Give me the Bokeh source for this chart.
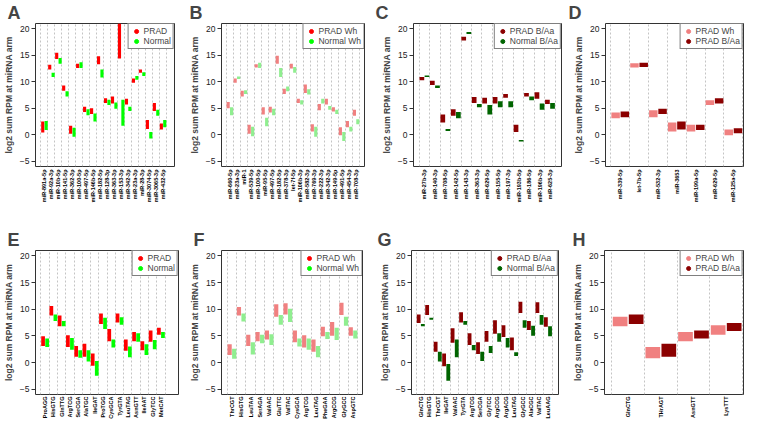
import math
from bokeh.plotting import figure
from bokeh.models import Range1d, FixedTicker, Legend, LegendItem
from bokeh.layouts import row, column
from bokeh.embed import file_html
from bokeh.resources import INLINE

FONT = "Liberation Sans"

# ---------------- data ----------------
a_labels = ["miR-891a-5p", "miR-92a-3p", "miR-10b-5p", "miR-141-5p", "miR-362-3p", "miR-100-5p",
            "miR-497-5p", "miR-146b-5p", "miR-182-5p", "miR-128-3p", "miR-363-3p", "miR-153-3p",
            "miR-342-3p", "miR-23a-3p", "miR-28-3p", "miR-3074-5p", "miR-3065-3p", "miR-432-5p"]
a_prad_lo = [0.4, 12.3, 14.3, 8.3, 0.2, 12.6, 4.3, 3.9, 13.3, 6.0, 5.9, 14.4, 5.7, 9.8, 11.7, 1.1, 4.5, 1.0]
a_prad_hi = [2.5, 13.2, 15.5, 9.3, 1.7, 13.4, 5.3, 5.0, 14.8, 6.9, 7.2, 24.7, 6.8, 10.6, 12.3, 2.8, 6.0, 2.1]
a_norm_lo = [0.9, 10.9, 13.4, 7.2, -0.4, 12.6, 3.7, 2.5, 10.8, 5.6, 4.9, 1.7, 4.5, 10.4, 11.1, -0.7, 3.6, 1.4]
a_norm_hi = [2.6, 11.7, 14.5, 8.2, 1.3, 13.7, 4.8, 4.0, 12.3, 6.6, 6.1, 6.6, 5.3, 11.1, 11.8, 0.5, 4.7, 2.8]

b_labels = ["miR-660-5p", "miR-23a-3p", "miR-1", "miR-539-5p", "miR-100-5p", "miR-95-5p",
            "miR-497-5p", "miR-182-5p", "miR-378-3p", "let-7f-5p", "miR-106b-3p", "miR-582-3p",
            "miR-769-3p", "miR-222-3p", "miR-342-3p", "miR-149-5p", "miR-491-5p", "miR-454-3p", "miR-708-3p"]
b_wh_lo = [5.0, 9.8, 7.2, 0.2, 12.7, 3.8, 4.2, 13.4, 7.7, 12.5, 6.0, 7.9, 0.6, 4.6, 5.7, 4.4, -0.1, 1.4, 3.6]
b_wh_hi = [6.2, 10.6, 8.3, 1.9, 13.3, 5.2, 5.3, 14.9, 8.7, 13.4, 6.8, 9.5, 2.0, 5.8, 6.8, 5.2, 1.4, 2.6, 4.7]
b_nwh_lo = [3.7, 10.5, 7.7, -0.3, 12.6, 1.6, 3.7, 10.9, 8.2, 11.7, 5.7, 7.6, -0.4, 5.9, 4.7, 3.9, -1.2, 0.6, 2.0]
b_nwh_hi = [5.2, 11.0, 8.4, 1.5, 13.6, 3.2, 4.9, 12.6, 9.1, 12.8, 6.5, 8.6, 1.5, 6.8, 5.4, 4.7, 0.5, 1.5, 2.9]

c_labels = ["miR-27b-3p", "miR-140-3p", "miR-708-5p", "miR-142-5p", "miR-143-3p", "miR-363-3p",
            "miR-629-5p", "miR-155-5p", "miR-197-3p", "miR-193b-5p", "miR-186-5p", "miR-196b-3p", "miR-625-3p"]
c_ba_lo = [10.3, 9.4, 2.3, 3.6, 17.8, 6.0, 5.9, 5.9, 7.0, 0.5, 7.2, 6.8, 5.8]
c_ba_hi = [10.9, 10.2, 3.8, 4.8, 18.5, 7.1, 7.0, 7.1, 7.7, 1.9, 7.9, 8.0, 6.6]
c_nba_lo = [10.9, 8.8, 0.7, 3.1, 19.0, 5.2, 3.8, 5.2, 5.2, -1.3, 6.5, 4.7, 4.9]
c_nba_hi = [11.2, 9.3, 1.1, 4.3, 19.4, 5.8, 5.6, 6.3, 6.3, -1.0, 7.2, 5.9, 6.0]

d_labels = ["miR-339-5p", "let-7b-5p", "miR-532-3p", "miR-3653", "miR-199a-5p", "miR-629-5p", "miR-125a-5p"]
d_wh_lo = [3.1, 12.7, 3.3, 0.6, 0.6, 5.6, -0.1]
d_wh_hi = [4.2, 13.5, 4.6, 2.3, 1.9, 6.5, 1.0]
d_ba_lo = [3.3, 12.8, 3.9, 1.0, 0.9, 5.9, 0.3]
d_ba_hi = [4.4, 13.6, 4.9, 2.5, 1.9, 6.9, 1.2]

e_labels = ["ProAGG", "HisGTG", "GlnTTG", "ArgTCG", "SerCGA", "AlaTGC", "IleGAT", "ProTGG",
            "CysGCA", "TyrGTA", "LeuTAG", "AsnGTT", "IleAAT", "GlyTCC", "MetCAT"]
e_prad_lo = [3.1, 8.8, 6.8, 2.9, 1.1, 1.1, -0.6, 7.2, 4.0, 7.5, 2.2, 4.0, 2.3, 3.9, 5.2]
e_prad_hi = [4.9, 10.6, 8.8, 5.1, 3.1, 3.5, 1.7, 9.2, 6.3, 9.2, 4.3, 5.7, 4.0, 6.0, 6.5]
e_norm_lo = [2.9, 7.8, 6.8, 2.4, 0.9, 0.2, -2.5, 6.3, 2.8, 7.1, 1.0, 3.9, 1.4, 2.5, 4.6]
e_norm_hi = [4.5, 9.0, 7.8, 4.6, 2.3, 2.3, 0.3, 8.4, 4.3, 8.5, 3.0, 5.5, 3.4, 4.2, 5.7]

f_labels = ["ThrCGT", "HisGTG", "LeuTAA", "SerAGA", "ValAAC", "GluTTC", "ValTAC", "CysGCA",
            "ArgTCG", "LeuTAG", "PheGAA", "ArgCCG", "GlyGCC", "AspGTC"]
f_wh_lo = [1.4, 8.8, 3.1, 4.0, 4.3, 8.6, 9.0, 3.8, 2.8, 2.0, 4.9, 5.0, 8.9, 5.0]
f_wh_hi = [3.4, 10.4, 5.2, 5.7, 6.0, 10.9, 11.1, 6.0, 5.1, 4.3, 6.7, 7.6, 11.2, 6.6]
f_nwh_lo = [0.7, 7.7, 1.5, 3.6, 3.3, 7.1, 7.6, 3.0, 2.4, 1.0, 4.4, 4.2, 6.9, 4.5]
f_nwh_hi = [2.6, 9.2, 3.8, 5.2, 5.3, 8.9, 10.1, 4.5, 4.5, 3.1, 5.7, 6.5, 8.6, 6.0]

g_labels = ["GlnCTG", "HisGTG", "ThrCGT", "IleGAT", "ValAAC", "TyrGTA", "ArgTCG", "SerCGA",
            "GlyTCC", "ArgCCG", "ArgACG", "LeuTAG", "GlyGCC", "AlaCGC", "ValTAC", "LeuAAG"]
g_ba_lo = [7.4, 8.9, 2.0, -0.7, 3.7, 7.5, 3.3, 1.6, 3.9, 5.4, 4.8, 2.3, 9.3, 6.1, 9.3, 6.7]
g_ba_hi = [9.0, 10.8, 3.9, 1.7, 6.4, 9.4, 5.5, 3.8, 5.9, 7.9, 7.0, 4.7, 11.4, 7.8, 11.3, 8.5]
g_nba_lo = [6.8, 8.0, 0.2, -3.4, 1.0, 7.1, 2.3, 0.3, 1.8, 3.9, 2.8, 1.2, 6.5, 5.0, 7.1, 4.9]
g_nba_hi = [7.2, 8.4, 2.0, -0.3, 4.3, 7.8, 3.3, 2.0, 3.1, 5.5, 4.6, 1.9, 7.9, 6.9, 8.9, 6.8]

h_labels = ["GlnCTG", "THrAGT", "AsnGTT", "LysTTT"]
h_wh_lo = [6.8, 0.8, 4.0, 5.2]
h_wh_hi = [8.6, 2.9, 5.7, 7.0]
h_ba_lo = [7.2, 1.1, 4.5, 5.9]
h_ba_hi = [9.0, 3.5, 6.0, 7.4]

y_ticks = [-5, 0, 5, 10, 15, 20]

RED, GREEN = "#FF0000", "#00FF00"
LRED, LGREEN = "#F08080", "#90EE90"
DRED, DGREEN = "#8B0000", "#006400"


def panel(letter, labels, lo1, hi1, lo2, hi2, c1, c2, lc1, lc2, n1, n2,
          w, h, mbl, mbr, mbt, mbb, padl, padr, toff, xstand):
    N = len(labels)
    fw = w - mbl - mbr
    slot = (fw - padl - padr) / N
    xr = Range1d(0.5 - padl / slot, N + 0.5 + padr / slot)
    p = figure(width=w, height=h, x_range=xr, y_range=Range1d(-6, 21),
               output_backend="svg", toolbar_location=None,
               min_border_left=mbl, min_border_right=mbr,
               min_border_top=mbt, min_border_bottom=mbb, title=letter)
    p.title.text_font = FONT
    p.title.text_font_size = "18px"
    p.title.text_font_style = "bold"
    p.title.align = "left"
    p.title.offset = toff
    p.title.standoff = 1
    p.outline_line_color = "#333333"
    p.outline_line_width = 1
    p.background_fill_color = "white"
    p.border_fill_color = "white"

    xs1 = [i + 1 - 0.245 for i in range(N)]
    xs2 = [i + 1 + 0.245 for i in range(N)]
    p.vbar(x=xs1, width=0.45, bottom=lo1, top=hi1, fill_color=c1, line_color=None)
    p.vbar(x=xs2, width=0.45, bottom=lo2, top=hi2, fill_color=c2, line_color=None)

    # legend-only markers, placed outside the visible y range
    r1 = p.scatter(x=[1], y=[-100], marker="circle", size=5, fill_color=lc1, line_color=lc1)
    r2 = p.scatter(x=[1], y=[-100], marker="circle", size=5, fill_color=lc2, line_color=lc2)
    leg = Legend(items=[LegendItem(label=n1, renderers=[r1], index=0),
                        LegendItem(label=n2, renderers=[r2], index=0)])
    leg.location = "top_right"
    leg.margin = 0
    leg.padding = 2
    leg.spacing = 0
    leg.border_line_color = "black"
    leg.border_line_width = 1
    leg.background_fill_alpha = 1
    leg.label_text_font = FONT
    leg.label_text_font_size = "8.5px"
    leg.label_height = 10
    leg.glyph_height = 10
    leg.glyph_width = 11
    leg.label_standoff = 2
    p.add_layout(leg)

    # x axis
    p.xaxis.ticker = FixedTicker(ticks=list(range(1, N + 1)))
    p.xaxis.major_label_overrides = {i + 1: lab for i, lab in enumerate(labels)}
    p.xaxis.major_label_orientation = math.pi / 2
    p.xaxis.major_label_text_font = FONT
    p.xaxis.major_label_text_font_size = "5.5px"
    p.xaxis.major_label_text_font_style = "bold"
    p.xaxis.major_label_text_color = "black"
    p.xaxis.major_label_standoff = xstand
    p.xaxis.axis_line_color = None
    p.xaxis.major_tick_line_color = None
    p.xaxis.minor_tick_line_color = None
    p.xaxis.major_tick_out = 0
    p.xaxis.major_tick_in = 0

    # y axis
    p.yaxis.ticker = FixedTicker(ticks=y_ticks)
    p.yaxis.axis_label = "log2 sum RPM at miRNA arm"
    p.yaxis.axis_label_text_font = FONT
    p.yaxis.axis_label_text_font_size = "8.5px"
    p.yaxis.axis_label_text_font_style = "bold"
    p.yaxis.axis_label_standoff = 3
    p.yaxis.major_label_text_font = FONT
    p.yaxis.major_label_text_font_size = "8.5px"
    p.yaxis.major_label_text_color = "#222222"
    p.yaxis.major_label_standoff = 2
    p.yaxis.major_label_orientation = "horizontal"
    p.yaxis.axis_line_color = None
    p.yaxis.major_tick_line_color = "#333333"
    p.yaxis.major_tick_out = 4
    p.yaxis.major_tick_in = 0
    p.yaxis.minor_tick_line_color = None

    # grid
    p.xgrid.ticker = FixedTicker(ticks=[i + 0.5 for i in range(N + 1)])
    p.xgrid.grid_line_color = "#C4C4C4"
    p.xgrid.grid_line_dash = "2 2"
    p.xgrid.grid_line_width = 1
    p.ygrid.grid_line_color = None
    return p


H1, H2 = 214, 207
TOP1, BOT1 = 12, 48
TOP2, BOT2 = 36, 20

pa = panel("A", a_labels, a_prad_lo, a_prad_hi, a_norm_lo, a_norm_hi, RED, GREEN, RED, GREEN,
           "PRAD", "Normal", 186, H1, 29, 12, TOP1, BOT1, 5.7, 8.3, -28, 3)
pb = panel("B", b_labels, b_wh_lo, b_wh_hi, b_nwh_lo, b_nwh_hi, LRED, LGREEN, RED, GREEN,
           "PRAD Wh", "Normal Wh", 186, H1, 31, 8, TOP1, BOT1, 5.0, 5.0, -32, 3)
pc = panel("C", c_labels, c_ba_lo, c_ba_hi, c_nba_lo, c_nba_hi, DRED, DGREEN, DRED, DGREEN,
           "PRAD B/Aa", "Normal B/Aa", 192, H1, 41, 3, TOP1, BOT1, 5.7, 6.3, -38, 3)
pd_ = panel("D", d_labels, d_wh_lo, d_wh_hi, d_ba_lo, d_ba_hi, LRED, DRED, LRED, DRED,
            "PRAD Wh", "PRAD B/Aa", 180, H1, 41, 1, TOP1, BOT1, 5.3, 0.7, -37, 3)

pe = panel("E", e_labels, e_prad_lo, e_prad_hi, e_norm_lo, e_norm_hi, RED, GREEN, RED, GREEN,
           "PRAD", "Normal", 186, H2, 29, 8, TOP2, BOT2, 5.7, 14.0, -28, 2)
pf = panel("F", f_labels, f_wh_lo, f_wh_hi, f_nwh_lo, f_nwh_hi, LRED, LGREEN, RED, GREEN,
           "PRAD Wh", "Normal Wh", 186, H2, 29, 10, TOP2, BOT2, 6.0, 5.0, -28, 2)
pg = panel("G", g_labels, g_ba_lo, g_ba_hi, g_nba_lo, g_nba_hi, DRED, DGREEN, DRED, DGREEN,
           "PRAD B/Aa", "Normal B/Aa", 192, H2, 39, 6, TOP2, BOT2, 5.0, 6.3, -34, 2)
ph = panel("H", h_labels, h_wh_lo, h_wh_hi, h_ba_lo, h_ba_hi, LRED, DRED, LRED, DRED,
           "PRAD Wh", "PRAD B/Aa", 180, H2, 40, 1, TOP2, BOT2, 7.3, 1.0, -32, 2)

layout = column(row(pa, pb, pc, pd_), row(pe, pf, pg, ph))

open("out.html", "w").write(file_html(layout, INLINE))
